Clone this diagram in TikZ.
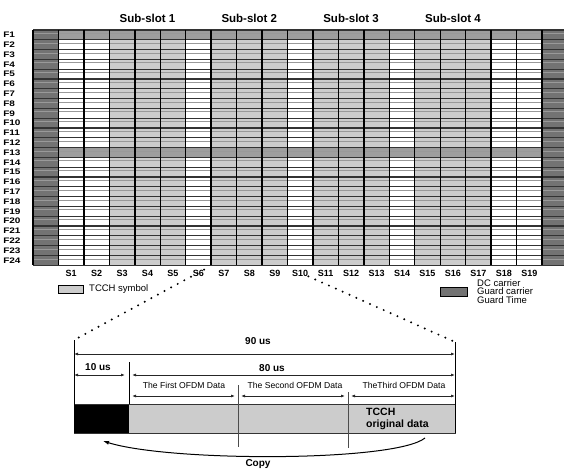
\documentclass[tikz,border=0pt]{standalone}
\usepackage{fontspec}
\setmainfont{Liberation Sans}
\usetikzlibrary{calc,arrows.meta}

\definecolor{guardgray}{gray}{0.45}
\definecolor{carriergray}{gray}{0.62}
\definecolor{tcchgray}{gray}{0.8}

\tikzset{
  rowline/.style={line width=1.1pt,black!80},
  subline/.style={line width=0.6pt,black!40},
  colline/.style={line width=1.4pt,black},
  flabel/.style={anchor=west,inner sep=0pt,xscale=1.25,font=\fontsize{8}{8}\selectfont\bfseries},
  slabel/.style={inner sep=0pt,font=\fontsize{9}{9}\selectfont\bfseries},
  subslot/.style={inner sep=0pt,font=\fontsize{11.5}{12}\selectfont\bfseries},
  keybox/.style={draw,line width=0.9pt,minimum width=25pt,minimum height=8pt,inner sep=0pt},
  keytext/.style={anchor=west,inner sep=0pt,align=left,font=\fontsize{9.5}{8.5}\selectfont},
  dimline/.style={{Latex[length=4pt,width=3pt]}-{Latex[length=4pt,width=3pt]},line width=0.9pt,black!85},
  dimtext/.style={inner sep=0pt,font=\fontsize{10}{10}\selectfont\bfseries},
  datatext/.style={inner sep=0pt,font=\fontsize{8.6}{9}\selectfont},
  zoomline/.style={line width=2.2pt,line cap=round,dash pattern=on 0pt off 7.5pt},
}

\begin{document}
\begin{tikzpicture}[x=1pt,y=-1pt]
   \useasboundingbox (0,0) rectangle (564,470);

   % sub-carrier / symbol grid
   \foreach \c in {3,4,5,7,8,9,11,12,13,15,16,17}
      \fill[tcchgray] ($(33,30)+\c*(25.45,0)$) rectangle ++(25.45,235.2);
   \foreach \c in {0,20}
      \fill[guardgray] ($(33,30)+\c*(25.45,0)$) rectangle ++(25.45,235.2);
   \foreach \r in {0,12}
      \fill[carriergray] ($(58.45,30)+\r*(0,9.8)$) rectangle ++(483.55,9.8);
   \foreach \r in {0,...,23}
      \draw[subline] ($(33,33.4)+\r*(0,9.8)$) -- ++(534.45,0);
   \foreach \r in {0,...,24}
      \draw[rowline] ($(33,30)+\r*(0,9.8)$) -- ++(534.45,0);
   \foreach \c in {0,...,21}
      \draw[colline] ($(33,30)+\c*(25.45,0)$) -- ++(0,235.2);

   \foreach \r in {1,...,24}
      \node[flabel] (f\r) at ($(3,25.1)+\r*(0,9.8)$) {F\r};
   \foreach \c in {1,...,19}
      \node[slabel] (s\c) at ($(45.7,273)+\c*(25.45,0)$) {S\c};
   \foreach \k in {1,...,4}
      \node[subslot] (sub\k) at ($(45.7,18)+\k*(101.8,0)$) {Sub-slot \k};

   % legend
   \node[keybox,fill=tcchgray] (tcchkey) at (70.5,289) {};
   \node[keytext] (tcchtext) at (89,289) {TCCH symbol};
   \node[keybox,fill=guardgray,minimum width=27pt,minimum height=9pt] (guardkey) at (453.5,291.5) {};
   \node[keytext] (guardtext) at (477,291.5) {DC carrier\\Guard carrier\\Guard Time};

   % one TCCH symbol
   \coordinate (tl) at (74,340);
   \coordinate (bl) at (74,433);
   \coordinate (tr) at (455,342);
   \coordinate (br) at (455,433);
   \coordinate (gt) at (129,362);
   \coordinate (gb) at (129,404);
   \fill[tcchgray] (gb) rectangle (br);
   \fill[black] (74,404) rectangle (bl -| gb);
   \draw[line width=0.9pt,black!80] (74,404) rectangle (br);
   \draw[line width=1pt] (tl) -- (bl);
   \draw[line width=1pt] (tr) -- (br);
   \draw[line width=0.9pt] (gt) -- (gb);
   \draw[zoomline] (s6.north east) -- (tl);
   \draw[zoomline] (s10.south east) -- (tr);

   \coordinate (d1) at (238,385);
   \coordinate (d2) at (348,392);
   \draw[line width=0.5pt,black!70] (d1) -- (238,447);
   \draw[line width=0.5pt,black!70] (d2) -- (348,448);

   \draw[dimline] (74,354) -- (455,354);
   \draw[dimline] (74,375) -- (125,375);
   \draw[dimline] (132,375) -- (455,375);
   \draw[dimline] (132,396) -- (235,396);
   \draw[dimline] (241,396) -- (345,396);
   \draw[dimline] (351,396) -- (455,396);

   \node[dimtext] (t90) at (258,341) {90 us};
   \node[dimtext] (t10) at (98,367) {10 us};
   \node[dimtext] (t80) at (272,368) {80 us};
   \node[datatext] (first) at (184,385) {The First OFDM Data};
   \node[datatext] (second) at (295,385) {The Second OFDM Data};
   \node[datatext] (third) at (404,385) {TheThird OFDM Data};
   \node[anchor=west,inner sep=0pt,align=left,font=\fontsize{10.5}{12.5}\selectfont\bfseries] (orig) at (366,419) {TCCH\\original data};

   % copy of the tail into the guard time
   \coordinate (cpsrc) at (425,438);
   \coordinate (cpdst) at (103,441);
   \draw[line width=1pt,-{Latex[length=6pt,width=4pt]}] (cpsrc) .. controls (395,462) and (170,462) .. (cpdst);
   \node[dimtext] (copy) at (258,464) {Copy};
\end{tikzpicture}
\end{document}
